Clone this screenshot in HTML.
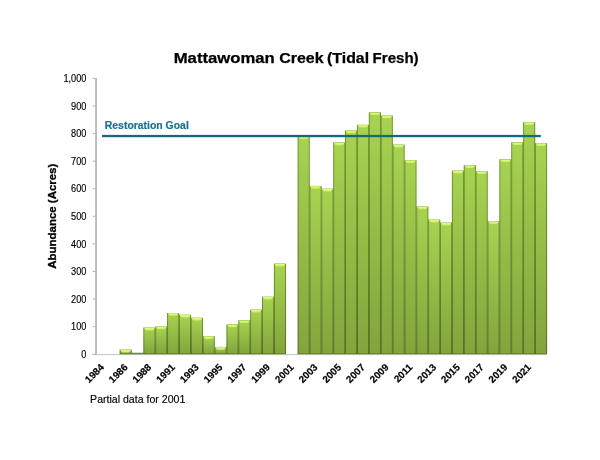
<!DOCTYPE html>
<html lang="en"><head><meta charset="utf-8"><title>Mattawoman Creek (Tidal Fresh)</title>
<style>
html,body{margin:0;padding:0;background:#fff;}
body{width:600px;height:460px;overflow:hidden;}
svg{display:block;}
text{font-family:"Liberation Sans",sans-serif;}
.t{font-size:15px;font-weight:bold;fill:#000;stroke:#000;stroke-width:0.25px;}
.yt{font-size:11.6px;font-weight:bold;fill:#000;stroke:#000;stroke-width:0.3px;}
.yl{font-size:10.2px;fill:#000;text-anchor:end;stroke:#000;stroke-width:0.15px;}
.xl{font-size:9.85px;font-weight:bold;fill:#000;text-anchor:end;stroke:#000;stroke-width:0.2px;}
.gl{font-size:10.4px;font-weight:bold;fill:#1c728e;stroke:#1c728e;stroke-width:0.2px;}
.nt{font-size:10.67px;fill:#000;stroke:#000;stroke-width:0.15px;}
</style></head><body>
<svg width="600" height="460" viewBox="0 0 600 460">
<defs>
<linearGradient id="g" x1="0" y1="0" x2="0" y2="1">
<stop offset="0" stop-color="#a7d351"/><stop offset="1" stop-color="#83a43c"/>
</linearGradient>
<linearGradient id="e" x1="0" y1="0" x2="0" y2="1">
<stop offset="0" stop-color="#70962d"/><stop offset="1" stop-color="#506d25"/>
</linearGradient>
<linearGradient id="h" x1="0" y1="0" x2="0" y2="1">
<stop offset="0" stop-color="#e4fa86"/><stop offset="1" stop-color="#cbee5c"/>
</linearGradient>
</defs>
<rect width="600" height="460" fill="#fff"/>
<text class="t" y="63.3"><tspan x="173.7" textLength="101.1" lengthAdjust="spacingAndGlyphs">Mattawoman</tspan> <tspan x="279.2" textLength="44.4" lengthAdjust="spacingAndGlyphs">Creek</tspan> <tspan x="327.1" textLength="42.0" lengthAdjust="spacingAndGlyphs">(Tidal</tspan> <tspan x="372.6" textLength="46.0" lengthAdjust="spacingAndGlyphs">Fresh)</tspan></text>
<text class="yt" transform="translate(56.3,216.2) rotate(-90)" text-anchor="middle" textLength="105" lengthAdjust="spacingAndGlyphs">Abundance (Acres)</text>
<g fill="#b4b4b4">
<rect x="95.2" y="77.9" width="1.7" height="277.20"/>
<rect x="92.6" y="354.10" width="454.4" height="1" fill="#c4c4c4"/>
<rect x="92.6" y="353.70" width="3" height="1"/>
<rect x="92.6" y="326.12" width="3" height="1"/>
<rect x="92.6" y="298.54" width="3" height="1"/>
<rect x="92.6" y="270.96" width="3" height="1"/>
<rect x="92.6" y="243.38" width="3" height="1"/>
<rect x="92.6" y="215.80" width="3" height="1"/>
<rect x="92.6" y="188.22" width="3" height="1"/>
<rect x="92.6" y="160.64" width="3" height="1"/>
<rect x="92.6" y="133.06" width="3" height="1"/>
<rect x="92.6" y="105.48" width="3" height="1"/>
<rect x="92.6" y="77.90" width="3" height="1"/>
</g>
<text class="yl" transform="translate(86.4,357.85) scale(0.9,1)">0</text>
<text class="yl" transform="translate(86.4,330.27) scale(0.9,1)">100</text>
<text class="yl" transform="translate(86.4,302.69) scale(0.9,1)">200</text>
<text class="yl" transform="translate(86.4,275.11) scale(0.9,1)">300</text>
<text class="yl" transform="translate(86.4,247.53) scale(0.9,1)">400</text>
<text class="yl" transform="translate(86.4,219.95) scale(0.9,1)">500</text>
<text class="yl" transform="translate(86.4,192.37) scale(0.9,1)">600</text>
<text class="yl" transform="translate(86.4,164.79) scale(0.9,1)">700</text>
<text class="yl" transform="translate(86.4,137.21) scale(0.9,1)">800</text>
<text class="yl" transform="translate(86.4,109.63) scale(0.9,1)">900</text>
<text class="yl" transform="translate(86.4,82.05) scale(0.9,1)">1,000</text>
<g>
<rect x="119.58" y="349.60" width="12.17" height="4.60" fill="url(#e)"/>
<rect x="131.45" y="352.70" width="12.17" height="1.50" fill="url(#e)"/>
<rect x="143.32" y="327.60" width="12.17" height="26.60" fill="url(#e)"/>
<rect x="155.19" y="326.50" width="12.17" height="27.70" fill="url(#e)"/>
<rect x="167.05" y="313.00" width="12.17" height="41.20" fill="url(#e)"/>
<rect x="178.92" y="314.70" width="12.17" height="39.50" fill="url(#e)"/>
<rect x="190.79" y="317.70" width="12.17" height="36.50" fill="url(#e)"/>
<rect x="202.65" y="336.10" width="12.17" height="18.10" fill="url(#e)"/>
<rect x="214.52" y="346.90" width="12.17" height="7.30" fill="url(#e)"/>
<rect x="226.39" y="324.40" width="12.17" height="29.80" fill="url(#e)"/>
<rect x="238.25" y="320.30" width="12.17" height="33.90" fill="url(#e)"/>
<rect x="250.12" y="309.60" width="12.17" height="44.60" fill="url(#e)"/>
<rect x="261.99" y="296.70" width="12.17" height="57.50" fill="url(#e)"/>
<rect x="273.86" y="263.60" width="12.17" height="90.60" fill="url(#e)"/>
<rect x="297.59" y="136.30" width="12.17" height="217.90" fill="url(#e)"/>
<rect x="309.46" y="185.90" width="12.17" height="168.30" fill="url(#e)"/>
<rect x="321.32" y="188.70" width="12.17" height="165.50" fill="url(#e)"/>
<rect x="333.19" y="142.40" width="12.17" height="211.80" fill="url(#e)"/>
<rect x="345.06" y="130.40" width="12.17" height="223.80" fill="url(#e)"/>
<rect x="356.92" y="124.80" width="12.17" height="229.40" fill="url(#e)"/>
<rect x="368.79" y="112.30" width="12.17" height="241.90" fill="url(#e)"/>
<rect x="380.66" y="115.50" width="12.17" height="238.70" fill="url(#e)"/>
<rect x="392.53" y="144.60" width="12.17" height="209.60" fill="url(#e)"/>
<rect x="404.39" y="160.20" width="12.17" height="194.00" fill="url(#e)"/>
<rect x="416.26" y="206.50" width="12.17" height="147.70" fill="url(#e)"/>
<rect x="428.13" y="219.60" width="12.17" height="134.60" fill="url(#e)"/>
<rect x="439.99" y="222.60" width="12.17" height="131.60" fill="url(#e)"/>
<rect x="451.86" y="170.60" width="12.17" height="183.60" fill="url(#e)"/>
<rect x="463.73" y="165.10" width="12.17" height="189.10" fill="url(#e)"/>
<rect x="475.59" y="171.20" width="12.17" height="183.00" fill="url(#e)"/>
<rect x="487.46" y="221.10" width="12.17" height="133.10" fill="url(#e)"/>
<rect x="499.33" y="159.30" width="12.17" height="194.90" fill="url(#e)"/>
<rect x="511.20" y="142.30" width="12.17" height="211.90" fill="url(#e)"/>
<rect x="523.06" y="122.20" width="12.17" height="232.00" fill="url(#e)"/>
<rect x="534.93" y="143.20" width="12.17" height="211.00" fill="url(#e)"/>
<rect x="120.58" y="349.90" width="10.17" height="3.60" fill="url(#g)"/>
<path d="M120.53,349.95 L130.80,349.95 Q130.30,352.00 128.60,352.40 L122.73,352.40 Q121.03,352.00 120.53,349.95 Z" fill="url(#h)"/>
<rect x="132.45" y="353.00" width="10.17" height="0.50" fill="url(#g)"/>
<rect x="144.32" y="327.90" width="10.17" height="25.60" fill="url(#g)"/>
<path d="M144.27,327.95 L154.53,327.95 Q154.03,330.00 152.34,330.40 L146.47,330.40 Q144.77,330.00 144.27,327.95 Z" fill="url(#h)"/>
<rect x="156.19" y="326.80" width="10.17" height="26.70" fill="url(#g)"/>
<path d="M156.14,326.85 L166.40,326.85 Q165.90,328.90 164.20,329.30 L158.34,329.30 Q156.64,328.90 156.14,326.85 Z" fill="url(#h)"/>
<rect x="168.05" y="313.30" width="10.17" height="40.20" fill="url(#g)"/>
<path d="M168.00,313.35 L178.27,313.35 Q177.77,315.40 176.07,315.80 L170.20,315.80 Q168.50,315.40 168.00,313.35 Z" fill="url(#h)"/>
<rect x="179.92" y="315.00" width="10.17" height="38.50" fill="url(#g)"/>
<path d="M179.87,315.05 L190.14,315.05 Q189.64,317.10 187.94,317.50 L182.07,317.50 Q180.37,317.10 179.87,315.05 Z" fill="url(#h)"/>
<rect x="191.79" y="318.00" width="10.17" height="35.50" fill="url(#g)"/>
<path d="M191.74,318.05 L202.00,318.05 Q201.50,320.10 199.80,320.50 L193.94,320.50 Q192.24,320.10 191.74,318.05 Z" fill="url(#h)"/>
<rect x="203.65" y="336.40" width="10.17" height="17.10" fill="url(#g)"/>
<path d="M203.60,336.45 L213.87,336.45 Q213.37,338.50 211.67,338.90 L205.80,338.90 Q204.10,338.50 203.60,336.45 Z" fill="url(#h)"/>
<rect x="215.52" y="347.20" width="10.17" height="6.30" fill="url(#g)"/>
<path d="M215.47,347.25 L225.74,347.25 Q225.24,349.30 223.54,349.70 L217.67,349.70 Q215.97,349.30 215.47,347.25 Z" fill="url(#h)"/>
<rect x="227.39" y="324.70" width="10.17" height="28.80" fill="url(#g)"/>
<path d="M227.34,324.75 L237.60,324.75 Q237.10,326.80 235.40,327.20 L229.54,327.20 Q227.84,326.80 227.34,324.75 Z" fill="url(#h)"/>
<rect x="239.25" y="320.60" width="10.17" height="32.90" fill="url(#g)"/>
<path d="M239.20,320.65 L249.47,320.65 Q248.97,322.70 247.27,323.10 L241.40,323.10 Q239.70,322.70 239.20,320.65 Z" fill="url(#h)"/>
<rect x="251.12" y="309.90" width="10.17" height="43.60" fill="url(#g)"/>
<path d="M251.07,309.95 L261.34,309.95 Q260.84,312.00 259.14,312.40 L253.27,312.40 Q251.57,312.00 251.07,309.95 Z" fill="url(#h)"/>
<rect x="262.99" y="297.00" width="10.17" height="56.50" fill="url(#g)"/>
<path d="M262.94,297.05 L273.21,297.05 Q272.71,299.10 271.01,299.50 L265.14,299.50 Q263.44,299.10 262.94,297.05 Z" fill="url(#h)"/>
<rect x="274.86" y="263.90" width="10.17" height="89.60" fill="url(#g)"/>
<path d="M274.81,263.95 L285.07,263.95 Q284.57,266.00 282.87,266.40 L277.00,266.40 Q275.31,266.00 274.81,263.95 Z" fill="url(#h)"/>
<rect x="298.59" y="136.60" width="10.17" height="216.90" fill="url(#g)"/>
<path d="M298.54,136.65 L308.81,136.65 Q308.31,138.70 306.61,139.10 L300.74,139.10 Q299.04,138.70 298.54,136.65 Z" fill="url(#h)"/>
<rect x="310.46" y="186.20" width="10.17" height="167.30" fill="url(#g)"/>
<path d="M310.41,186.25 L320.67,186.25 Q320.17,188.30 318.47,188.70 L312.61,188.70 Q310.91,188.30 310.41,186.25 Z" fill="url(#h)"/>
<rect x="322.32" y="189.00" width="10.17" height="164.50" fill="url(#g)"/>
<path d="M322.27,189.05 L332.54,189.05 Q332.04,191.10 330.34,191.50 L324.47,191.50 Q322.77,191.10 322.27,189.05 Z" fill="url(#h)"/>
<rect x="334.19" y="142.70" width="10.17" height="210.80" fill="url(#g)"/>
<path d="M334.14,142.75 L344.41,142.75 Q343.91,144.80 342.21,145.20 L336.34,145.20 Q334.64,144.80 334.14,142.75 Z" fill="url(#h)"/>
<rect x="346.06" y="130.70" width="10.17" height="222.80" fill="url(#g)"/>
<path d="M346.01,130.75 L356.27,130.75 Q355.77,132.80 354.07,133.20 L348.21,133.20 Q346.51,132.80 346.01,130.75 Z" fill="url(#h)"/>
<rect x="357.92" y="125.10" width="10.17" height="228.40" fill="url(#g)"/>
<path d="M357.87,125.15 L368.14,125.15 Q367.64,127.20 365.94,127.60 L360.07,127.60 Q358.37,127.20 357.87,125.15 Z" fill="url(#h)"/>
<rect x="369.79" y="112.60" width="10.17" height="240.90" fill="url(#g)"/>
<path d="M369.74,112.65 L380.01,112.65 Q379.51,114.70 377.81,115.10 L371.94,115.10 Q370.24,114.70 369.74,112.65 Z" fill="url(#h)"/>
<rect x="381.66" y="115.80" width="10.17" height="237.70" fill="url(#g)"/>
<path d="M381.61,115.85 L391.88,115.85 Q391.38,117.90 389.68,118.30 L383.81,118.30 Q382.11,117.90 381.61,115.85 Z" fill="url(#h)"/>
<rect x="393.53" y="144.90" width="10.17" height="208.60" fill="url(#g)"/>
<path d="M393.48,144.95 L403.74,144.95 Q403.24,147.00 401.54,147.40 L395.68,147.40 Q393.98,147.00 393.48,144.95 Z" fill="url(#h)"/>
<rect x="405.39" y="160.50" width="10.17" height="193.00" fill="url(#g)"/>
<path d="M405.34,160.55 L415.61,160.55 Q415.11,162.60 413.41,163.00 L407.54,163.00 Q405.84,162.60 405.34,160.55 Z" fill="url(#h)"/>
<rect x="417.26" y="206.80" width="10.17" height="146.70" fill="url(#g)"/>
<path d="M417.21,206.85 L427.48,206.85 Q426.98,208.90 425.28,209.30 L419.41,209.30 Q417.71,208.90 417.21,206.85 Z" fill="url(#h)"/>
<rect x="429.13" y="219.90" width="10.17" height="133.60" fill="url(#g)"/>
<path d="M429.08,219.95 L439.34,219.95 Q438.84,222.00 437.14,222.40 L431.28,222.40 Q429.58,222.00 429.08,219.95 Z" fill="url(#h)"/>
<rect x="440.99" y="222.90" width="10.17" height="130.60" fill="url(#g)"/>
<path d="M440.94,222.95 L451.21,222.95 Q450.71,225.00 449.01,225.40 L443.14,225.40 Q441.44,225.00 440.94,222.95 Z" fill="url(#h)"/>
<rect x="452.86" y="170.90" width="10.17" height="182.60" fill="url(#g)"/>
<path d="M452.81,170.95 L463.08,170.95 Q462.58,173.00 460.88,173.40 L455.01,173.40 Q453.31,173.00 452.81,170.95 Z" fill="url(#h)"/>
<rect x="464.73" y="165.40" width="10.17" height="188.10" fill="url(#g)"/>
<path d="M464.68,165.45 L474.94,165.45 Q474.44,167.50 472.74,167.90 L466.88,167.90 Q465.18,167.50 464.68,165.45 Z" fill="url(#h)"/>
<rect x="476.59" y="171.50" width="10.17" height="182.00" fill="url(#g)"/>
<path d="M476.54,171.55 L486.81,171.55 Q486.31,173.60 484.61,174.00 L478.74,174.00 Q477.04,173.60 476.54,171.55 Z" fill="url(#h)"/>
<rect x="488.46" y="221.40" width="10.17" height="132.10" fill="url(#g)"/>
<path d="M488.41,221.45 L498.68,221.45 Q498.18,223.50 496.48,223.90 L490.61,223.90 Q488.91,223.50 488.41,221.45 Z" fill="url(#h)"/>
<rect x="500.33" y="159.60" width="10.17" height="193.90" fill="url(#g)"/>
<path d="M500.28,159.65 L510.55,159.65 Q510.05,161.70 508.35,162.10 L502.48,162.10 Q500.78,161.70 500.28,159.65 Z" fill="url(#h)"/>
<rect x="512.20" y="142.60" width="10.17" height="210.90" fill="url(#g)"/>
<path d="M512.14,142.65 L522.41,142.65 Q521.91,144.70 520.21,145.10 L514.35,145.10 Q512.64,144.70 512.14,142.65 Z" fill="url(#h)"/>
<rect x="524.06" y="122.50" width="10.17" height="231.00" fill="url(#g)"/>
<path d="M524.01,122.55 L534.28,122.55 Q533.78,124.60 532.08,125.00 L526.21,125.00 Q524.51,124.60 524.01,122.55 Z" fill="url(#h)"/>
<rect x="535.93" y="143.50" width="10.17" height="210.00" fill="url(#g)"/>
<path d="M535.88,143.55 L546.15,143.55 Q545.65,145.60 543.95,146.00 L538.08,146.00 Q536.38,145.60 535.88,143.55 Z" fill="url(#h)"/>
</g>
<rect x="102" y="134.9" width="438.8" height="2.3" fill="#15687f"/>
<text class="gl" x="104.8" y="128.7" textLength="84" lengthAdjust="spacingAndGlyphs">Restoration Goal</text>
<text class="xl" transform="translate(104.53,367.9) rotate(-45)">1984</text>
<text class="xl" transform="translate(128.27,367.9) rotate(-45)">1986</text>
<text class="xl" transform="translate(152.00,367.9) rotate(-45)">1988</text>
<text class="xl" transform="translate(175.74,367.9) rotate(-45)">1991</text>
<text class="xl" transform="translate(199.47,367.9) rotate(-45)">1993</text>
<text class="xl" transform="translate(223.20,367.9) rotate(-45)">1995</text>
<text class="xl" transform="translate(246.94,367.9) rotate(-45)">1997</text>
<text class="xl" transform="translate(270.67,367.9) rotate(-45)">1999</text>
<text class="xl" transform="translate(294.41,367.9) rotate(-45)">2001</text>
<text class="xl" transform="translate(318.14,367.9) rotate(-45)">2003</text>
<text class="xl" transform="translate(341.87,367.9) rotate(-45)">2005</text>
<text class="xl" transform="translate(365.61,367.9) rotate(-45)">2007</text>
<text class="xl" transform="translate(389.34,367.9) rotate(-45)">2009</text>
<text class="xl" transform="translate(413.08,367.9) rotate(-45)">2011</text>
<text class="xl" transform="translate(436.81,367.9) rotate(-45)">2013</text>
<text class="xl" transform="translate(460.54,367.9) rotate(-45)">2015</text>
<text class="xl" transform="translate(484.28,367.9) rotate(-45)">2017</text>
<text class="xl" transform="translate(508.01,367.9) rotate(-45)">2019</text>
<text class="xl" transform="translate(531.75,367.9) rotate(-45)">2021</text>
<text class="nt" x="90.1" y="403.3" textLength="95.2" lengthAdjust="spacingAndGlyphs">Partial data for 2001</text>
</svg>
</body></html>
